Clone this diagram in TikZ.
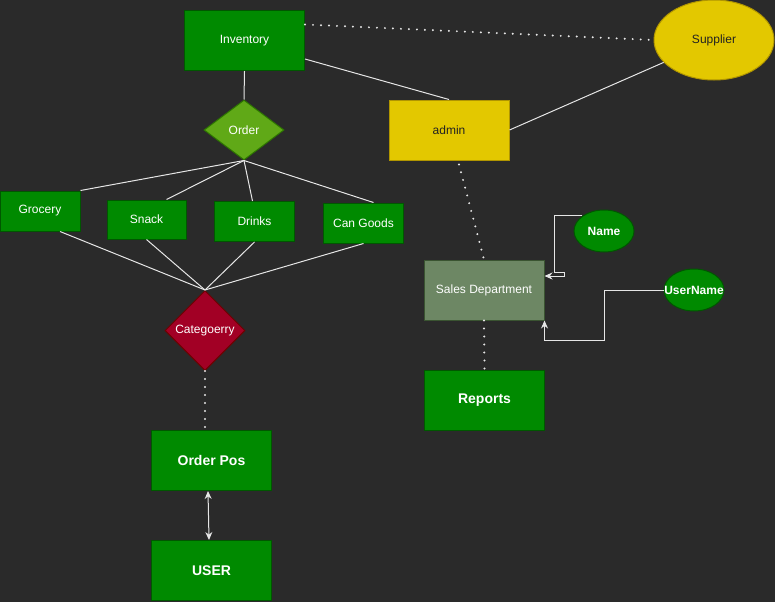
\documentclass[tikz,border=0pt]{standalone}
\usepackage{fontspec}
\setmainfont{Liberation Sans}
\usetikzlibrary{shapes.geometric,calc,arrows.meta}
\definecolor{bg}{HTML}{2A2A2A}
\definecolor{gfill}{HTML}{008A00}
\definecolor{gline}{HTML}{005700}
\definecolor{yfill}{HTML}{E3C800}
\definecolor{yline}{HTML}{B09500}
\definecolor{lgfill}{HTML}{60A917}
\definecolor{lgline}{HTML}{2D7600}
\definecolor{rfill}{HTML}{A20025}
\definecolor{rline}{HTML}{6F0000}
\definecolor{sfill}{HTML}{6D8764}
\definecolor{sline}{HTML}{3A5431}
\definecolor{wirec}{HTML}{E6E6E6}
\definecolor{darktext}{HTML}{222222}
\tikzset{
  txt/.style={font=\fontsize{12}{14}\selectfont},
  bigtxt/.style={font=\fontsize{14}{16}\selectfont\bfseries},
  gbox/.style={rectangle, draw=gline, fill=gfill, text=white, txt, inner sep=0pt, line width=1pt},
  ybox/.style={rectangle, draw=yline, fill=yfill, text=darktext, txt, inner sep=0pt, line width=1pt},
  attr/.style={ellipse, draw=gline, fill=gfill, text=white, font=\fontsize{12}{14}\selectfont\bfseries,
      inner sep=0pt, minimum width=60, minimum height=42, line width=1pt},
  wire/.style={draw=wirec, line width=1pt},
  dotline/.style={draw=wirec, line width=2.2pt, line cap=round, dash pattern=on 0pt off 8pt},
  tip/.style={-{Stealth[length=8pt,width=7pt]}},
}
\begin{document}
\begin{tikzpicture}[x=1pt,y=-1pt]
\fill[bg] (0,0) rectangle (775,602);
\useasboundingbox (0,0) rectangle (775,602);

% entities
\node[gbox, minimum width=120, minimum height=60] (inv) at (244.5,40.5) {Inventory};
\node[ellipse, draw=yline, fill=yfill, text=darktext, txt, inner sep=0pt,
      minimum width=120, minimum height=80, line width=1pt] (sup) at (714,40) {Supplier};
\node[ybox, minimum width=120, minimum height=60] (admin) at (449,130) {admin};
\node[diamond, draw=lgline, fill=lgfill, text=white, txt, inner sep=0pt,
      minimum width=80, minimum height=60, line width=1pt] (order) at (244,130) {Order};

% categories
\node[gbox, minimum width=80, minimum height=40] (groc) at (40,211) {Grocery};
\node[gbox, minimum width=79, minimum height=39] (snack) at (146.5,219.5) {Snack};
\node[gbox, minimum width=80, minimum height=40] (drinks) at (254.5,221.5) {Drinks};
\node[gbox, minimum width=80, minimum height=40] (can) at (363.5,223) {Can Goods};

\node[diamond, draw=rline, fill=rfill, text=white, txt, inner sep=0pt,
      minimum width=80, minimum height=80, line width=1pt] (cat) at (205,330.5) {Categoerry};

\node[gbox, bigtxt, minimum width=120, minimum height=60] (opos) at (211.5,460.5) {Order Pos};
\node[gbox, bigtxt, minimum width=120, minimum height=60] (user) at (211.5,570.5) {USER};

% sales side
\node[rectangle, draw=sline, fill=sfill, text=white, txt, inner sep=0pt,
      minimum width=120, minimum height=60, line width=1pt] (sales) at (484,290) {Sales Department};
\node[gbox, bigtxt, minimum width=120, minimum height=60] (rep) at (484.5,400.5) {Reports};
\node[attr] (name) at (604,231) {\makebox[0pt]{Name}};
\node[attr] (uname) at (694,290) {\makebox[0pt]{UserName}};

% connectors
\draw[dotline] ($(inv.east)+(0,-16)$) -- (sup.west);
\draw[wire] ($(inv.south east)+(0,-12)$) -- (admin.north);
\draw[wire] (admin.east) -- (sup.204);
\draw[wire] (inv.south) -- (order.north);

\draw[wire] (order.south) -- (groc.north east);
\draw[wire] (order.south) -- ($(snack.north)+(20,0)$);
\draw[wire] (order.south) -- ($(drinks.north)+(-2,0)$);
\draw[wire] (order.south) -- ($(can.north)+(10,0)$);

\draw[wire] ($(groc.south)+(20,0)$) -- (cat.north);
\draw[wire] (snack.south) -- (cat.north);
\draw[wire] (drinks.south) -- (cat.north);
\draw[wire] (can.south) -- (cat.north);

\draw[dotline] (cat.south) -- ($(opos.north)+(-6.5,0)$);
\draw[wire, {Stealth[length=8pt,width=7pt]}-{Stealth[length=8pt,width=7pt]}]
  ($(opos.south)+(-3.5,0)$) -- ($(user.north)+(-2.5,0)$);

\draw[dotline] ($(admin.south)+(10,4)$) -- (sales.north);
\draw[dotline] (sales.south) -- (rep.north);

\draw[wire, tip] (name.145) -| (554,272.5) -- (564,272.5) |- ($(sales.east)+(0,-14)$);
\draw[wire, tip] (uname.west) -| (604,340) -| (sales.south east);
\end{tikzpicture}
\end{document}
